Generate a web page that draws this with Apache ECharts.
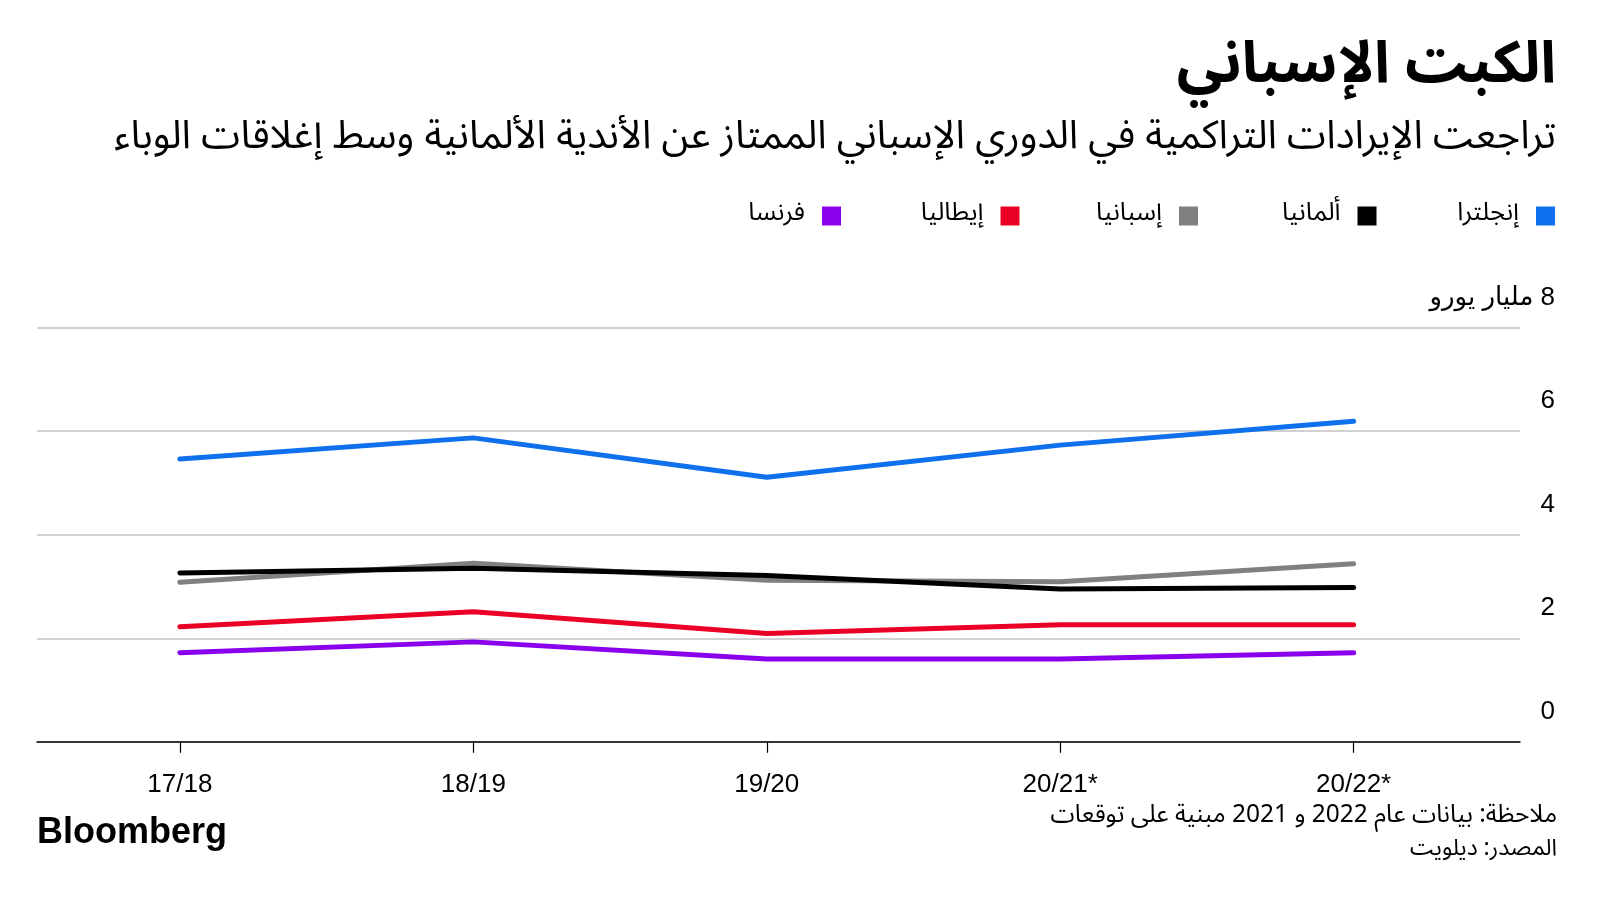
<!DOCTYPE html>
<html>
<head>
<meta charset="utf-8">
<script src="https://cdn.jsdelivr.net/npm/echarts@6/dist/echarts.min.js"></script>
<style>
html,body{margin:0;padding:0;background:#fff;}
#c{width:1600px;height:900px;}
</style>
</head>
<body>
<div id="c"></div>
<script>
const seasons = ['17/18', '18/19', '19/20', '20/21*', '20/22*'];
const england = [5.46, 5.87, 5.11, 5.73, 6.19];
const germany = [3.26, 3.35, 3.21, 2.95, 2.98];
const spain   = [3.08, 3.45, 3.12, 3.09, 3.44];
const italy   = [2.22, 2.51, 2.09, 2.26, 2.26];
const france  = [1.72, 1.93, 1.60, 1.60, 1.72];
const yTicks = [0, 2, 4, 6, 8];

const names = {england:'إنجلترا', germany:'ألمانيا', spain:'إسبانيا', italy:'إيطاليا', france:'فرنسا'};
const colors = {england:'#0f70ee', germany:'#000000', spain:'#808080', italy:'#ea0025', france:'#8a00ec'};
const legendOrder = ['england', 'germany', 'spain', 'italy', 'france'];

const AR = "'Noto Sans Arabic', 'DejaVu Sans', sans-serif";
const LAT = "'Liberation Sans', 'DejaVu Sans', sans-serif";

function mk(key, arr, z) {
  return {
    name: names[key], type: 'line', data: arr.map((v, i) => [i, v]),
    symbol: 'none', z: z,
    lineStyle: {color: colors[key], width: 5, cap: 'round', join: 'round'},
    itemStyle: {color: colors[key]}
  };
}

const legends = legendOrder.map((k, i) => ({
  right: 40 + i * 178.5, top: 198, orient: 'horizontal', align: 'right',
  itemWidth: 19, itemHeight: 19, icon: 'rect',
  data: [names[k]],
  textStyle: {fontFamily: AR, fontSize: 25.5, color: '#000', padding: [0, 12, 0, 0]}
}));

const chart = echarts.init(document.getElementById('c'), null, {renderer: 'canvas'});
chart.setOption({
  animation: false,
  backgroundColor: '#ffffff',
  title: [
    {text: 'الكبت الإسباني', right: 39, top: 39,
     textStyle: {fontFamily: AR, fontWeight: 'bold', fontSize: 58, color: '#000'}},
    {text: 'تراجعت الإيرادات التراكمية في الدوري الإسباني الممتاز عن الأندية الألمانية وسط إغلاقات الوباء',
     right: 39, top: 117,
     textStyle: {fontFamily: AR, fontWeight: 'normal', fontSize: 39.5, color: '#000'}}
  ],
  legend: legends,
  grid: {left: 37, right: 80, top: 327.6, bottom: 158.2, containLabel: false},
  xAxis: {
    type: 'value', min: -0.487, max: 4.567,
    axisLine: {show: true, lineStyle: {color: '#000', width: 1.5}},
    axisTick: {show: true, length: 11, lineStyle: {color: '#000', width: 1.2}, customValues: [0, 1, 2, 3, 4]},
    axisLabel: {customValues: [0, 1, 2, 3, 4], formatter: v => seasons[Math.round(v)],
      fontFamily: LAT, fontSize: 26, color: '#000', margin: 30},
    splitLine: {show: false}
  },
  yAxis: {
    type: 'value', position: 'right', min: 0, max: 8, interval: 2,
    axisLine: {show: false}, axisTick: {show: false},
    splitLine: {show: true, lineStyle: {color: '#c2c2c2', width: 1.5}},
    axisLabel: {
      formatter: v => v === 8 ? 'مليار يورو \u200E8' : String(v),
      align: 'right', verticalAlign: 'bottom', margin: 35,
      fontFamily: LAT, fontSize: 26, color: '#000', lineHeight: 26, padding: [0, 0, 17, 0]
    }
  },
  series: [
    mk('france', france, 2),
    mk('italy', italy, 3),
    mk('spain', spain, 4),
    mk('germany', germany, 5),
    mk('england', england, 6)
  ],
  graphic: [
    {type: 'text', left: 37, top: 815,
     style: {text: 'Bloomberg', font: "bold 36px 'Liberation Sans', sans-serif", fill: '#000'}},
    {type: 'text', x: 1557, y: 818,
     style: {text: 'ملاحظة: بيانات عام 2022 و 2021 مبنية على توقعات', font: "24.5px 'Noto Sans Arabic', 'DejaVu Sans', sans-serif",
       fill: '#000', align: 'right', verticalAlign: 'middle'}},
    {type: 'text', x: 1557, y: 852,
     style: {text: 'المصدر: ديلويت', font: "23px 'Noto Sans Arabic', 'DejaVu Sans', sans-serif",
       fill: '#000', align: 'right', verticalAlign: 'middle'}}
  ]
});
</script>
</body>
</html>
